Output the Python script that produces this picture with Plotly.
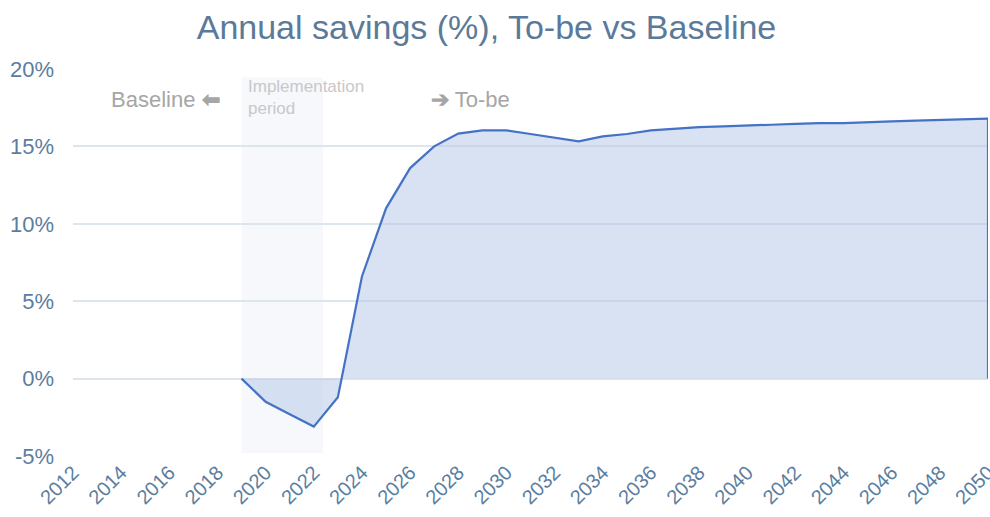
import plotly.graph_objects as go

years = list(range(2019, 2051))
savings = [0.0, -1.5, -2.3, -3.1, -1.2, 6.6, 11.0, 13.6, 15.0, 15.83, 16.04, 16.04,
           15.8, 15.55, 15.33, 15.65, 15.8, 16.04, 16.15, 16.24, 16.3, 16.37, 16.4,
           16.45, 16.5, 16.5, 16.58, 16.62, 16.66, 16.7, 16.75, 16.8]
y_ticks = [-5, 0, 5, 10, 15, 20]
x_ticks = list(range(2012, 2051, 2))
impl_start, impl_end = 2019, 2022.38

line_color = "#4472c4"
fill_color = "rgba(180,198,231,0.5)"
tick_color = "#5a7ea0"
FONT = "Liberation Sans, Arial"

W, H = 990, 517

fig = go.Figure()
fig.add_shape(type="rect", xref="x", yref="y", x0=impl_start, x1=impl_end,
              y0=-4.8, y1=19.45, fillcolor="#f6f8fc", line_width=0, layer="below")
fig.add_trace(go.Scatter(x=years, y=savings, mode="lines", fill="tozeroy",
                         fillcolor=fill_color, line=dict(color=line_color, width=2.2),
                         hoverinfo="x+y"))
fig.add_trace(go.Scatter(x=[years[-1], years[-1]], y=[savings[-1], 0], mode="lines",
                         line=dict(color=line_color, width=2.2), hoverinfo="skip"))

fig.add_annotation(x=2018.2, y=18.0, xref="x", yref="y", text="Baseline <b>\u2b05</b>",
                   showarrow=False, xanchor="right", yanchor="middle",
                   font=dict(family=FONT, size=22, color="#a6a6a6"))
fig.add_annotation(x=2019.2, y=18.15, xref="x", yref="y", text="Implementation<br>period",
                   showarrow=False, xanchor="left", yanchor="middle", align="left",
                   font=dict(family=FONT, size=17, color="#c8c8c8"))
fig.add_annotation(x=2026.8, y=18.0, xref="x", yref="y", text="<b>\u2794</b> To-be",
                   showarrow=False, xanchor="left", yanchor="middle",
                   font=dict(family=FONT, size=22, color="#a6a6a6"))

fig.update_layout(
    width=W, height=H,
    margin=dict(l=73, r=2, t=69, b=61, autoexpand=False),
    paper_bgcolor="white", plot_bgcolor="white",
    showlegend=False,
    title=dict(text="Annual savings (%), To-be vs Baseline", x=486.5 / W, xanchor="center",
               y=1 - 27 / H, yanchor="middle",
               font=dict(family=FONT, size=34, color="#5b7a99")),
    font=dict(family=FONT),
)
fig.update_xaxes(range=[2012, 2050], tickvals=x_ticks, ticktext=[str(t) for t in x_ticks],
                 tickangle=-45, showgrid=False, zeroline=False, showline=False,
                 automargin=False, ticklabeloverflow="allow",
                 tickfont=dict(size=20, color=tick_color))
fig.update_yaxes(range=[-5, 20], tickvals=y_ticks, ticktext=[f"{t}%" for t in y_ticks],
                 showgrid=True, gridcolor="#dde5ed", gridwidth=2, zeroline=False,
                 automargin=False, ticklabelstandoff=18,
                 tickfont=dict(size=22, color=tick_color))

fig.write_html(
    "out.html",
    config={"displayModeBar": False},
    post_script="document.documentElement.style.overflow='hidden';"
                "document.body.style.margin='0px';document.body.style.overflow='hidden';",
)
